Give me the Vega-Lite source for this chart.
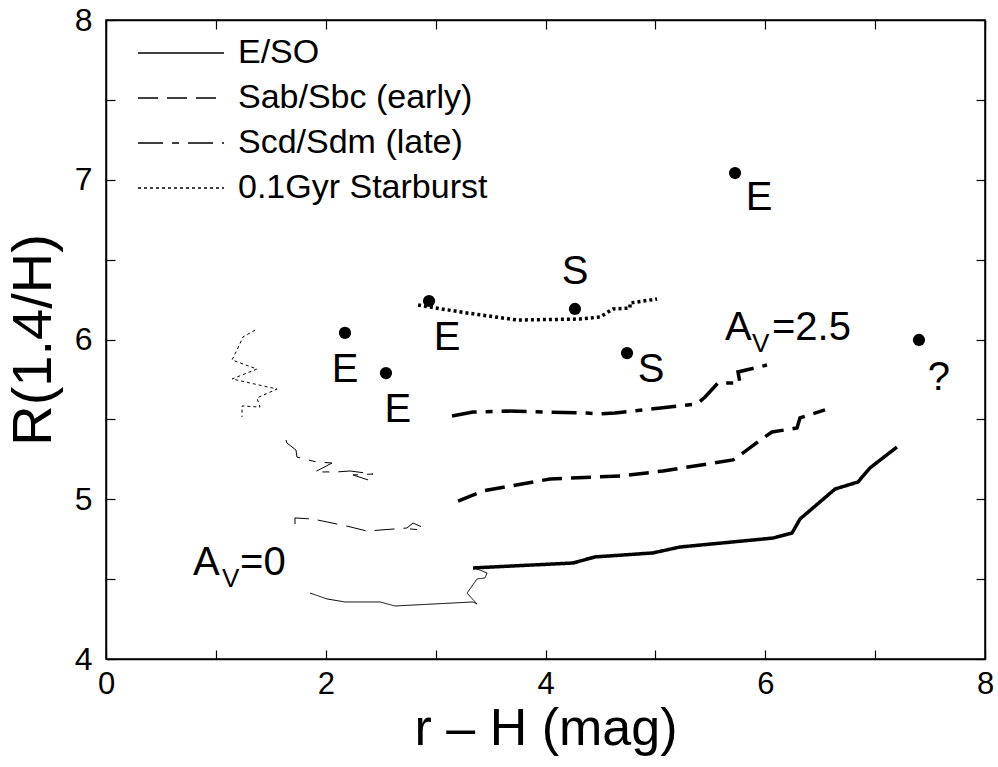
{
  "$schema": "https://vega.github.io/schema/vega-lite/v6.json",
  "width": 879,
  "height": 639,
  "autosize": {"type": "none"},
  "padding": {"left": 106, "top": 20, "right": 13, "bottom": 108},
  "background": "white",
  "config": {
    "font": "Liberation Sans",
    "view": {"stroke": "black", "strokeWidth": 1.5},
    "axis": {
      "grid": false,
      "domainColor": "black",
      "domainWidth": 1.5,
      "tickColor": "black",
      "tickWidth": 1.2,
      "labelColor": "black",
      "titleColor": "black",
      "titleFontWeight": "normal",
      "labelFont": "Liberation Sans",
      "titleFont": "Liberation Sans"
    }
  },
  "datasets": {
    "curves": [
      {"type": "E/SO", "av": "0", "i": 0, "x": 1.857, "y": 4.413},
      {"type": "E/SO", "av": "0", "i": 1, "x": 2.011, "y": 4.376},
      {"type": "E/SO", "av": "0", "i": 2, "x": 2.175, "y": 4.357},
      {"type": "E/SO", "av": "0", "i": 3, "x": 2.494, "y": 4.357},
      {"type": "E/SO", "av": "0", "i": 4, "x": 2.63, "y": 4.332},
      {"type": "E/SO", "av": "0", "i": 5, "x": 3.34, "y": 4.357},
      {"type": "E/SO", "av": "0", "i": 6, "x": 3.377, "y": 4.344},
      {"type": "E/SO", "av": "0", "i": 7, "x": 3.286, "y": 4.413},
      {"type": "E/SO", "av": "0", "i": 8, "x": 3.377, "y": 4.501},
      {"type": "E/SO", "av": "0", "i": 9, "x": 3.449, "y": 4.507},
      {"type": "E/SO", "av": "0", "i": 10, "x": 3.468, "y": 4.538},
      {"type": "E/SO", "av": "0", "i": 11, "x": 3.404, "y": 4.557},
      {"type": "E/SO", "av": "0", "i": 12, "x": 3.34, "y": 4.57},
      {"type": "E/SO", "av": "2.5", "i": 0, "x": 3.34, "y": 4.57},
      {"type": "E/SO", "av": "2.5", "i": 1, "x": 4.25, "y": 4.601},
      {"type": "E/SO", "av": "2.5", "i": 2, "x": 4.451, "y": 4.639},
      {"type": "E/SO", "av": "2.5", "i": 3, "x": 4.978, "y": 4.664},
      {"type": "E/SO", "av": "2.5", "i": 4, "x": 5.224, "y": 4.701},
      {"type": "E/SO", "av": "2.5", "i": 5, "x": 6.07, "y": 4.757},
      {"type": "E/SO", "av": "2.5", "i": 6, "x": 6.244, "y": 4.789},
      {"type": "E/SO", "av": "2.5", "i": 7, "x": 6.316, "y": 4.876},
      {"type": "E/SO", "av": "2.5", "i": 8, "x": 6.635, "y": 5.064},
      {"type": "E/SO", "av": "2.5", "i": 9, "x": 6.844, "y": 5.108},
      {"type": "E/SO", "av": "2.5", "i": 10, "x": 6.953, "y": 5.196},
      {"type": "E/SO", "av": "2.5", "i": 11, "x": 7.199, "y": 5.327},
      {"type": "Sab/Sbc (early)", "av": "0", "i": 0, "x": 1.72, "y": 4.845},
      {"type": "Sab/Sbc (early)", "av": "0", "i": 1, "x": 1.72, "y": 4.883},
      {"type": "Sab/Sbc (early)", "av": "0", "i": 2, "x": 1.884, "y": 4.876},
      {"type": "Sab/Sbc (early)", "av": "0", "i": 3, "x": 2.193, "y": 4.832},
      {"type": "Sab/Sbc (early)", "av": "0", "i": 4, "x": 2.375, "y": 4.801},
      {"type": "Sab/Sbc (early)", "av": "0", "i": 5, "x": 2.739, "y": 4.82},
      {"type": "Sab/Sbc (early)", "av": "0", "i": 6, "x": 2.794, "y": 4.851},
      {"type": "Sab/Sbc (early)", "av": "0", "i": 7, "x": 2.876, "y": 4.826},
      {"type": "Sab/Sbc (early)", "av": "0", "i": 8, "x": 2.876, "y": 4.808},
      {"type": "Sab/Sbc (early)", "av": "0", "i": 9, "x": 2.767, "y": 4.814},
      {"type": "Sab/Sbc (early)", "av": "2.5", "i": 0, "x": 3.204, "y": 4.989},
      {"type": "Sab/Sbc (early)", "av": "2.5", "i": 1, "x": 3.431, "y": 5.052},
      {"type": "Sab/Sbc (early)", "av": "2.5", "i": 2, "x": 4.041, "y": 5.127},
      {"type": "Sab/Sbc (early)", "av": "2.5", "i": 3, "x": 4.696, "y": 5.146},
      {"type": "Sab/Sbc (early)", "av": "2.5", "i": 4, "x": 5.069, "y": 5.177},
      {"type": "Sab/Sbc (early)", "av": "2.5", "i": 5, "x": 5.706, "y": 5.246},
      {"type": "Sab/Sbc (early)", "av": "2.5", "i": 6, "x": 5.798, "y": 5.29},
      {"type": "Sab/Sbc (early)", "av": "2.5", "i": 7, "x": 5.98, "y": 5.383},
      {"type": "Sab/Sbc (early)", "av": "2.5", "i": 8, "x": 6.061, "y": 5.421},
      {"type": "Sab/Sbc (early)", "av": "2.5", "i": 9, "x": 6.289, "y": 5.446},
      {"type": "Sab/Sbc (early)", "av": "2.5", "i": 10, "x": 6.316, "y": 5.509},
      {"type": "Sab/Sbc (early)", "av": "2.5", "i": 11, "x": 6.544, "y": 5.559},
      {"type": "Scd/Sdm (late)", "av": "0", "i": 0, "x": 1.638, "y": 5.371},
      {"type": "Scd/Sdm (late)", "av": "0", "i": 1, "x": 1.647, "y": 5.352},
      {"type": "Scd/Sdm (late)", "av": "0", "i": 2, "x": 1.729, "y": 5.308},
      {"type": "Scd/Sdm (late)", "av": "0", "i": 3, "x": 1.738, "y": 5.264},
      {"type": "Scd/Sdm (late)", "av": "0", "i": 4, "x": 1.838, "y": 5.246},
      {"type": "Scd/Sdm (late)", "av": "0", "i": 5, "x": 1.92, "y": 5.233},
      {"type": "Scd/Sdm (late)", "av": "0", "i": 6, "x": 2.057, "y": 5.227},
      {"type": "Scd/Sdm (late)", "av": "0", "i": 7, "x": 1.902, "y": 5.171},
      {"type": "Scd/Sdm (late)", "av": "0", "i": 8, "x": 2.102, "y": 5.171},
      {"type": "Scd/Sdm (late)", "av": "0", "i": 9, "x": 2.221, "y": 5.177},
      {"type": "Scd/Sdm (late)", "av": "0", "i": 10, "x": 2.43, "y": 5.158},
      {"type": "Scd/Sdm (late)", "av": "0", "i": 11, "x": 2.248, "y": 5.152},
      {"type": "Scd/Sdm (late)", "av": "0", "i": 12, "x": 2.385, "y": 5.121},
      {"type": "Scd/Sdm (late)", "av": "2.5", "i": 0, "x": 3.149, "y": 5.521},
      {"type": "Scd/Sdm (late)", "av": "2.5", "i": 1, "x": 3.34, "y": 5.546},
      {"type": "Scd/Sdm (late)", "av": "2.5", "i": 2, "x": 3.65, "y": 5.552},
      {"type": "Scd/Sdm (late)", "av": "2.5", "i": 3, "x": 4.378, "y": 5.54},
      {"type": "Scd/Sdm (late)", "av": "2.5", "i": 4, "x": 4.496, "y": 5.534},
      {"type": "Scd/Sdm (late)", "av": "2.5", "i": 5, "x": 4.633, "y": 5.54},
      {"type": "Scd/Sdm (late)", "av": "2.5", "i": 6, "x": 5.379, "y": 5.596},
      {"type": "Scd/Sdm (late)", "av": "2.5", "i": 7, "x": 5.452, "y": 5.64},
      {"type": "Scd/Sdm (late)", "av": "2.5", "i": 8, "x": 5.57, "y": 5.728},
      {"type": "Scd/Sdm (late)", "av": "2.5", "i": 9, "x": 5.77, "y": 5.728},
      {"type": "Scd/Sdm (late)", "av": "2.5", "i": 10, "x": 5.752, "y": 5.797},
      {"type": "Scd/Sdm (late)", "av": "2.5", "i": 11, "x": 6.016, "y": 5.84},
      {"type": "0.1Gyr Starburst", "av": "0", "i": 0, "x": 1.356, "y": 6.059},
      {"type": "0.1Gyr Starburst", "av": "0", "i": 1, "x": 1.247, "y": 6.016},
      {"type": "0.1Gyr Starburst", "av": "0", "i": 2, "x": 1.192, "y": 5.934},
      {"type": "0.1Gyr Starburst", "av": "0", "i": 3, "x": 1.147, "y": 5.872},
      {"type": "0.1Gyr Starburst", "av": "0", "i": 4, "x": 1.374, "y": 5.815},
      {"type": "0.1Gyr Starburst", "av": "0", "i": 5, "x": 1.147, "y": 5.753},
      {"type": "0.1Gyr Starburst", "av": "0", "i": 6, "x": 1.556, "y": 5.69},
      {"type": "0.1Gyr Starburst", "av": "0", "i": 7, "x": 1.374, "y": 5.634},
      {"type": "0.1Gyr Starburst", "av": "0", "i": 8, "x": 1.402, "y": 5.577},
      {"type": "0.1Gyr Starburst", "av": "0", "i": 9, "x": 1.238, "y": 5.584},
      {"type": "0.1Gyr Starburst", "av": "0", "i": 10, "x": 1.238, "y": 5.515},
      {"type": "0.1Gyr Starburst", "av": "2.5", "i": 0, "x": 2.84, "y": 6.216},
      {"type": "0.1Gyr Starburst", "av": "2.5", "i": 1, "x": 2.949, "y": 6.203},
      {"type": "0.1Gyr Starburst", "av": "2.5", "i": 2, "x": 3.286, "y": 6.166},
      {"type": "0.1Gyr Starburst", "av": "2.5", "i": 3, "x": 3.741, "y": 6.122},
      {"type": "0.1Gyr Starburst", "av": "2.5", "i": 4, "x": 4.314, "y": 6.128},
      {"type": "0.1Gyr Starburst", "av": "2.5", "i": 5, "x": 4.496, "y": 6.141},
      {"type": "0.1Gyr Starburst", "av": "2.5", "i": 6, "x": 4.614, "y": 6.191},
      {"type": "0.1Gyr Starburst", "av": "2.5", "i": 7, "x": 4.769, "y": 6.197},
      {"type": "0.1Gyr Starburst", "av": "2.5", "i": 8, "x": 4.769, "y": 6.228},
      {"type": "0.1Gyr Starburst", "av": "2.5", "i": 9, "x": 5.015, "y": 6.254}
    ],
    "galaxies": [
      {"x": 2.175, "y": 6.041},
      {"x": 2.548, "y": 5.79},
      {"x": 2.94, "y": 6.241},
      {"x": 4.268, "y": 6.191},
      {"x": 4.742, "y": 5.915},
      {"x": 5.725, "y": 7.042},
      {"x": 7.399, "y": 5.997}
    ],
    "labels": [
      {"x": 2.175, "y": 5.809, "text": "E"},
      {"x": 2.657, "y": 5.559, "text": "E"},
      {"x": 3.104, "y": 6.009, "text": "E"},
      {"x": 4.27, "y": 6.423, "text": "S"},
      {"x": 4.96, "y": 5.809, "text": "S"},
      {"x": 5.943, "y": 6.886, "text": "E"},
      {"x": 7.581, "y": 5.759, "text": "?"}
    ],
    "avMain": [
      {"x": 0.792, "y": 4.526, "text": "A"},
      {"x": 1.22, "y": 4.526, "text": "=0"},
      {"x": 5.634, "y": 5.997, "text": "A"},
      {"x": 6.061, "y": 5.997, "text": "=2.5"}
    ],
    "avSub": [
      {"x": 1.056, "y": 4.451, "text": "V"},
      {"x": 5.879, "y": 5.922, "text": "V"}
    ]
  },
  "resolve": {"axis": {"x": "independent", "y": "independent"}},
  "layer": [
    {
      "data": {"name": "curves"},
      "mark": {"type": "line", "color": "black", "strokeCap": "butt", "strokeJoin": "miter"},
      "encoding": {
        "x": {
          "field": "x", "type": "quantitative",
          "scale": {"domain": [0, 8], "nice": false, "zero": false},
          "axis": {
            "orient": "bottom", "values": [0, 1, 2, 3, 4, 5, 6, 7, 8],
            "labelExpr": "datum.value % 2 == 0 ? format(datum.value, 'd') : ''",
            "tickSize": -9, "labelPadding": 19, "labelFontSize": 31, "labelFlush": false,
            "title": "r – H (mag)", "titleFontSize": 52, "titlePadding": 4
          }
        },
        "y": {
          "field": "y", "type": "quantitative",
          "scale": {"domain": [4, 8], "nice": false, "zero": false},
          "axis": {
            "orient": "left", "values": [4, 4.5, 5, 5.5, 6, 6.5, 7, 7.5, 8],
            "labelExpr": "datum.value % 1 == 0 ? format(datum.value, 'd') : ''",
            "tickSize": -9, "labelPadding": 23, "labelFontSize": 32, "labelFlush": false,
            "title": "R(1.4/H)", "titleFontSize": 56, "titlePadding": 12
          }
        },
        "order": {"field": "i", "type": "quantitative"},
        "strokeDash": {
          "field": "type", "type": "nominal",
          "scale": {
            "domain": ["E/SO", "Sab/Sbc (early)", "Scd/Sdm (late)", "0.1Gyr Starburst"],
            "range": [[1, 0], [20, 9], [25, 9, 7, 9], [3, 3]]
          },
          "legend": {
            "title": null,
            "orient": "none",
            "legendX": 58,
            "legendY": 16,
            "padding": 0,
            "symbolType": "M-4,0H4",
            "symbolSize": 462,
            "symbolStrokeColor": "black",
            "symbolStrokeWidth": 1.3,
            "symbolFillColor": "transparent",
            "labelFontSize": 34,
            "labelFont": "Liberation Sans",
            "labelColor": "black",
            "labelOffset": 40,
            "rowPadding": 11,
            "labelLimit": 400
          }
        },
        "strokeWidth": {
          "field": "av", "type": "nominal",
          "scale": {"domain": ["0", "2.5"], "range": [1, 3.5]},
          "legend": null
        }
      }
    },
    {
      "data": {"name": "galaxies"},
      "mark": {"type": "point", "filled": true, "color": "black", "opacity": 1, "size": 150},
      "encoding": {
        "x": {"field": "x", "type": "quantitative",
          "axis": {"orient": "top", "values": [0, 1, 2, 3, 4, 5, 6, 7, 8], "labels": false, "tickSize": -9, "title": null}},
        "y": {"field": "y", "type": "quantitative",
          "axis": {"orient": "right", "values": [4, 4.5, 5, 5.5, 6, 6.5, 7, 7.5, 8], "labels": false, "tickSize": -9, "title": null}}
      }
    },
    {
      "data": {"name": "labels"},
      "mark": {"type": "text", "fontSize": 40, "align": "center", "baseline": "middle", "color": "black"},
      "encoding": {
        "x": {"field": "x", "type": "quantitative", "axis": null},
        "y": {"field": "y", "type": "quantitative", "axis": null},
        "text": {"field": "text"}
      }
    },
    {
      "data": {"name": "avMain"},
      "mark": {"type": "text", "fontSize": 40, "align": "left", "baseline": "alphabetic", "color": "black"},
      "encoding": {
        "x": {"field": "x", "type": "quantitative", "axis": null},
        "y": {"field": "y", "type": "quantitative", "axis": null},
        "text": {"field": "text"}
      }
    },
    {
      "data": {"name": "avSub"},
      "mark": {"type": "text", "fontSize": 26, "align": "left", "baseline": "alphabetic", "color": "black"},
      "encoding": {
        "x": {"field": "x", "type": "quantitative", "axis": null},
        "y": {"field": "y", "type": "quantitative", "axis": null},
        "text": {"field": "text"}
      }
    }
  ]
}
